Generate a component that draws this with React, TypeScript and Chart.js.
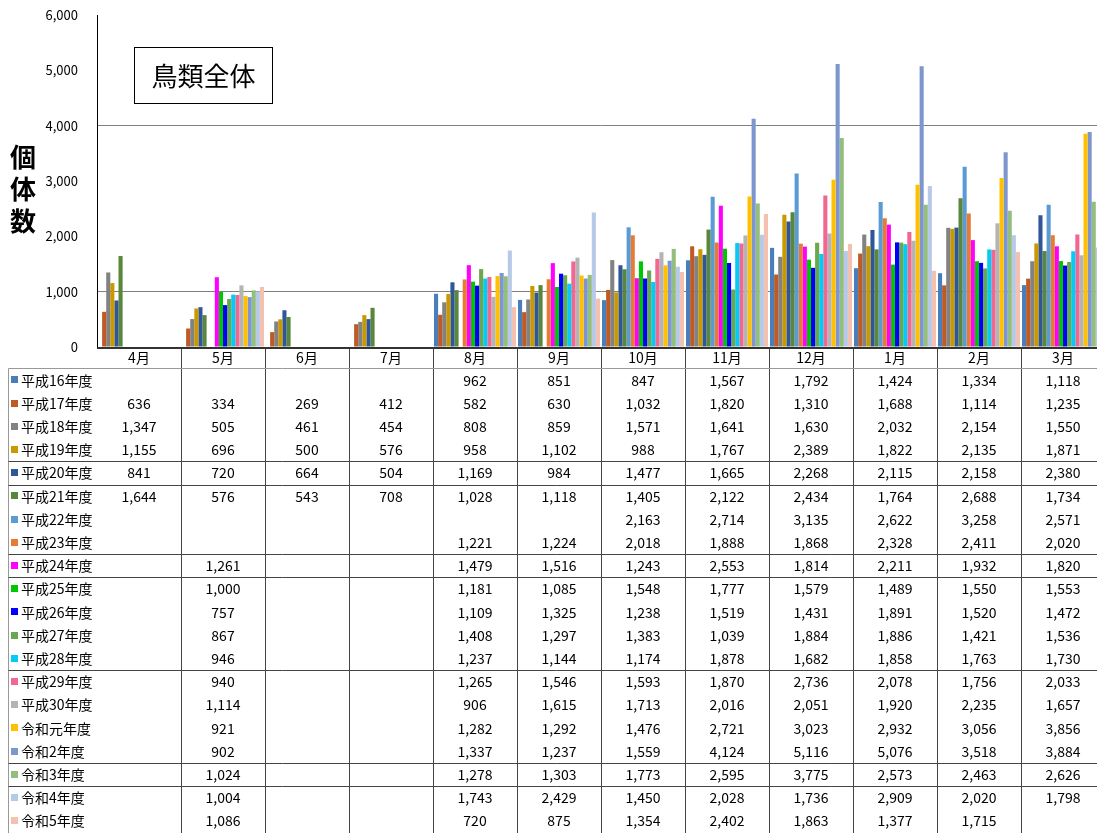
import React, { useEffect, useRef } from "react";
import { Chart, registerables } from "chart.js";

Chart.register(...registerables);

const months = ["4月", "5月", "6月", "7月", "8月", "9月", "10月", "11月", "12月", "1月", "2月", "3月"];

const seriesNames = [
  "平成16年度", "平成17年度", "平成18年度", "平成19年度", "平成20年度",
  "平成21年度", "平成22年度", "平成23年度", "平成24年度", "平成25年度",
  "平成26年度", "平成27年度", "平成28年度", "平成29年度", "平成30年度",
  "令和元年度", "令和2年度", "令和3年度", "令和4年度", "令和5年度",
];

const seriesColors = [
  "#4A7EBB", "#BE5B24", "#828282", "#C89A00", "#30569A",
  "#58873A", "#5B9BD5", "#E87A32", "#FF00FF", "#00C800",
  "#0000FF", "#6AA84F", "#00CCF5", "#F06792", "#B4B4B4",
  "#FFC000", "#7E96CE", "#93BE7D", "#B6CAE8", "#F4C0B0",
];

const h16 = [null, null, null, null, 962, 851, 847, 1567, 1792, 1424, 1334, 1118];
const h17 = [636, 334, 269, 412, 582, 630, 1032, 1820, 1310, 1688, 1114, 1235];
const h18 = [1347, 505, 461, 454, 808, 859, 1571, 1641, 1630, 2032, 2154, 1550];
const h19 = [1155, 696, 500, 576, 958, 1102, 988, 1767, 2389, 1822, 2135, 1871];
const h20 = [841, 720, 664, 504, 1169, 984, 1477, 1665, 2268, 2115, 2158, 2380];
const h21 = [1644, 576, 543, 708, 1028, 1118, 1405, 2122, 2434, 1764, 2688, 1734];
const h22 = [null, null, null, null, null, null, 2163, 2714, 3135, 2622, 3258, 2571];
const h23 = [null, null, null, null, 1221, 1224, 2018, 1888, 1868, 2328, 2411, 2020];
const h24 = [null, 1261, null, null, 1479, 1516, 1243, 2553, 1814, 2211, 1932, 1820];
const h25 = [null, 1000, null, null, 1181, 1085, 1548, 1777, 1579, 1489, 1550, 1553];
const h26 = [null, 757, null, null, 1109, 1325, 1238, 1519, 1431, 1891, 1520, 1472];
const h27 = [null, 867, null, null, 1408, 1297, 1383, 1039, 1884, 1886, 1421, 1536];
const h28 = [null, 946, null, null, 1237, 1144, 1174, 1878, 1682, 1858, 1763, 1730];
const h29 = [null, 940, null, null, 1265, 1546, 1593, 1870, 2736, 2078, 1756, 2033];
const h30 = [null, 1114, null, null, 906, 1615, 1713, 2016, 2051, 1920, 2235, 1657];
const r01 = [null, 921, null, null, 1282, 1292, 1476, 2721, 3023, 2932, 3056, 3856];
const r02 = [null, 902, null, null, 1337, 1237, 1559, 4124, 5116, 5076, 3518, 3884];
const r03 = [null, 1024, null, null, 1278, 1303, 1773, 2595, 3775, 2573, 2463, 2626];
const r04 = [null, 1004, null, null, 1743, 2429, 1450, 2028, 1736, 2909, 2020, 1798];
const r05 = [null, 1086, null, null, 720, 875, 1354, 2402, 1863, 1377, 1715, null];

const seriesValues: (number | null)[][] = [
  h16, h17, h18, h19, h20, h21, h22, h23, h24, h25,
  h26, h27, h28, h29, h30, r01, r02, r03, r04, r05,
];

const yTicks = [0, 1000, 2000, 3000, 4000, 5000, 6000];
const gridValues = [1000, 4000];

const chartTitle = "鳥類全体";
const yTitle = ["個", "体", "数"];
const groupBreaksAfter = [3, 4, 7, 8, 12, 16, 17];

const FONT = '"Noto Sans CJK JP", "Noto Sans", sans-serif';

const fmt = (v: number) => v.toLocaleString("en-US");

const tablePlugin = {
  id: "tablePlugin",
  afterDraw(chart: any) {
    const ctx = chart.ctx as CanvasRenderingContext2D;
    const area = chart.chartArea;
    const xs = chart.scales.x;
    const n = months.length;
    const step = xs.getPixelForValue(1) - xs.getPixelForValue(0);
    const axisY = area.bottom;
    const headerBottom = 368.5;
    const rowH = 23.2;
    const tableLeft = 8.5;
    const tableRight = xs.getPixelForValue(n - 1) + step / 2;
    const bottom = 833;

    ctx.save();

    // title box
    ctx.strokeStyle = "#000";
    ctx.lineWidth = 1;
    ctx.strokeRect(134.5, 47.5, 138, 56);
    ctx.fillStyle = "#000";
    ctx.font = `26px ${FONT}`;
    ctx.textAlign = "center";
    ctx.textBaseline = "middle";
    ctx.fillText(chartTitle, 203.5, 76);

    // y title
    ctx.font = `bold 26px ${FONT}`;
    yTitle.forEach((c, i) => ctx.fillText(c, 23, 157 + i * 32));

    // x axis line
    ctx.strokeStyle = "#333";
    ctx.lineWidth = 2;
    ctx.beginPath();
    ctx.moveTo(area.left, axisY + 1);
    ctx.lineTo(tableRight, axisY + 1);
    ctx.stroke();

    // vertical separators
    ctx.lineWidth = 1;
    ctx.strokeStyle = "#444";
    for (let i = 1; i < n; i++) {
      const x = Math.round(xs.getPixelForValue(i) - step / 2) + 0.5;
      ctx.beginPath();
      ctx.moveTo(x, axisY + 2);
      ctx.lineTo(x, bottom);
      ctx.stroke();
    }

    // header bottom and left border
    ctx.strokeStyle = "#999";
    ctx.beginPath();
    ctx.moveTo(tableLeft, headerBottom);
    ctx.lineTo(tableRight, headerBottom);
    ctx.moveTo(tableLeft, headerBottom);
    ctx.lineTo(tableLeft, bottom);
    ctx.stroke();

    // group break lines
    ctx.strokeStyle = "#444";
    groupBreaksAfter.forEach((k) => {
      const y = Math.round(headerBottom + rowH * (k + 1)) + 0.5;
      ctx.beginPath();
      ctx.moveTo(tableLeft, y);
      ctx.lineTo(tableRight, y);
      ctx.stroke();
    });

    // month labels
    ctx.fillStyle = "#000";
    ctx.font = `14px ${FONT}`;
    ctx.textAlign = "center";
    ctx.textBaseline = "middle";
    months.forEach((m, i) => ctx.fillText(m, xs.getPixelForValue(i), 358));

    // rows
    seriesNames.forEach((name, r) => {
      const cy = headerBottom + rowH * r + 11.8;
      ctx.fillStyle = seriesColors[r];
      ctx.fillRect(11, Math.round(cy) - 4, 7, 7);
      ctx.fillStyle = "#000";
      ctx.textAlign = "left";
      ctx.fillText(name, 21, cy);
      ctx.textAlign = "center";
      seriesValues[r].forEach((v, i) => {
        if (v !== null) ctx.fillText(fmt(v), xs.getPixelForValue(i), cy);
      });
    });

    ctx.restore();
  },
};

export default function App() {
  const ref = useRef<HTMLCanvasElement | null>(null);

  useEffect(() => {
    if (!ref.current) return;
    const chart = new Chart(ref.current, {
      type: "bar",
      data: {
        labels: months,
        datasets: seriesNames.map((name, i) => ({
          label: name,
          data: seriesValues[i],
          backgroundColor: seriesColors[i],
          borderWidth: 0,
          categoryPercentage: 0.976,
          barPercentage: 1.0,
        })),
      },
      options: {
        responsive: false,
        animation: false,
        devicePixelRatio: 1,
        layout: { padding: { top: 15, left: 0, right: 1, bottom: 486 } },
        plugins: { legend: { display: false }, tooltip: { enabled: false }, title: { display: false } },
        scales: {
          x: { display: false, offset: true },
          y: {
            min: 0,
            max: 6000,
            afterBuildTicks: (scale: any) => {
              scale.ticks = yTicks.map((v) => ({ value: v }));
            },
            afterFit: (scale: any) => {
              scale.width = 97;
            },
            ticks: {
              color: "#000",
              padding: 0,
              font: { family: FONT, size: 13 },
              callback: (v: any) => fmt(Number(v)),
            },
            grid: {
              drawTicks: true,
              tickLength: 19,
              tickColor: "rgba(0,0,0,0)",
              color: (c: any) => (gridValues.includes(c.tick?.value) ? "#808080" : "rgba(0,0,0,0)"),
            },
            border: { display: true, color: "#000", width: 1 },
          },
        },
      },
      plugins: [tablePlugin],
    });
    return () => chart.destroy();
  }, []);

  return (
    <div style={{ position: "fixed", left: 0, top: 0, width: 1097, height: 833, overflow: "hidden", background: "#fff" }}>
      <canvas ref={ref} width={1106} height={833} style={{ width: 1106, height: 833, display: "block" }} />
    </div>
  );
}
